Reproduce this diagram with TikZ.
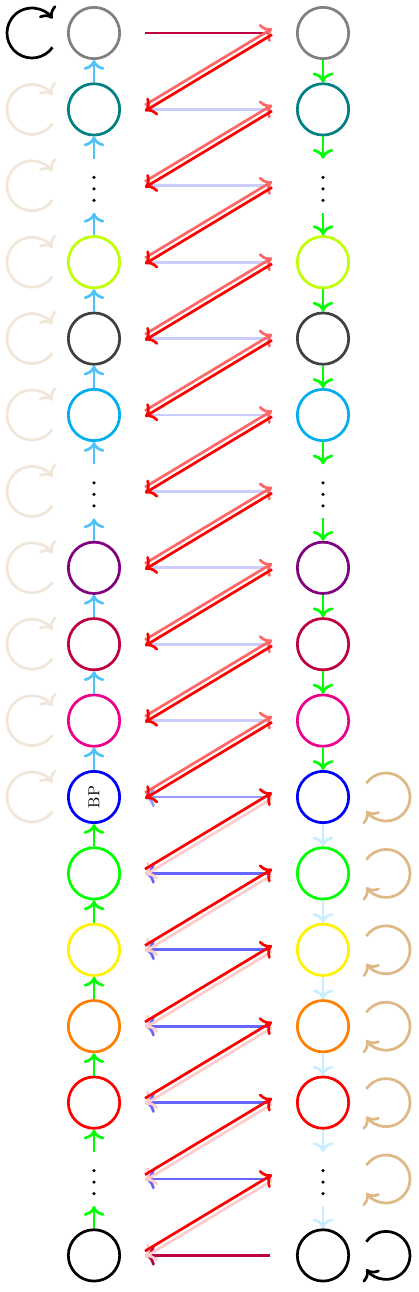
\documentclass[tikz,border=0pt]{standalone}
\usetikzlibrary{arrows.meta}
\definecolor{pcyan}{RGB}{0,174,239}
\definecolor{pmag}{RGB}{236,0,140}
\definecolor{arrcyan}{RGB}{79,195,247}
\definecolor{lcyan}{RGB}{200,238,255}
\definecolor{loopbeige}{RGB}{240,230,218}
\definecolor{looptan}{RGB}{222,184,135}
\begin{document}
\begin{tikzpicture}[x=0.022cm,y=-0.022cm,line width=1.7pt,>={To[scale=1.15]},
  nd/.style={circle,draw,minimum size=1.13cm,inner sep=0pt},
  dt/.style={circle,minimum size=1.13cm,inner sep=0pt},
  up/.style={yshift=0.095cm},
  dn/.style={yshift=-0.035cm}]
\useasboundingbox (0,0) rectangle (418,1292);
% circle nodes
\foreach \i/\c in {0/gray,1/teal,3/lime,4/darkgray,5/pcyan,7/violet,8/purple,9/pmag,10/blue,11/green,12/yellow,13/orange,14/red,16/black}{
  \node[nd,draw=\c] (L\i) at (94,{33+76.4*\i}) {};
  \node[nd,draw=\c] (R\i) at (323,{33+76.4*\i}) {};
}
\node[rotate=90] (bp) at (L10) {BP};
% dots nodes
\foreach \i in {2,6,15}{
  \node[dt] (L\i) at (94,{33+76.4*\i}) {};
  \node[dt] (R\i) at (323,{33+76.4*\i}) {};
  \foreach \d in {-11.5,0,11.5}{
    \fill (94,{36+76.4*\i+\d}) circle[radius=1.1pt];
    \fill (323,{36+76.4*\i+\d}) circle[radius=1.1pt];
  }
}
% connector end points
\foreach \i in {0,...,16}{
  \coordinate (a\i) at (145,{33+76.4*\i});
  \coordinate (b\i) at (272,{33+76.4*\i});
  \coordinate (c\i) at (270,{33+76.4*\i});
}
% vertical arrows
\foreach \i [evaluate=\i as \j using int(\i+1)] in {0,...,9}{
  \draw[arrcyan,->] (L\j) -- (L\i);
  \draw[green,->] (R\i) -- (R\j);
}
\foreach \i [evaluate=\i as \j using int(\i+1)] in {10,...,15}{
  \draw[green,->] (L\j) -- (L\i);
  \draw[lcyan,->] (R\i) -- (R\j);
}
% loops
\draw[black,->] (32,33) ++(35:25) arc[start angle=35,end angle=325,radius=25];
\foreach \i in {1,...,10}
  \draw[loopbeige,->] (32,{33+76.4*\i}) ++(35:25) arc[start angle=35,end angle=325,radius=25];
\foreach \i in {10,...,15}
  \draw[looptan,->] (386,{33+76.4*\i}) ++(215:24) arc[start angle=215,end angle=505,radius=24];
\draw[black,->] (386,{33+76.4*16}) ++(215:24) arc[start angle=215,end angle=505,radius=24];
% horizontal connectors
\draw[purple] (a0) -- (c0);
\foreach \i in {1,...,9} \draw[blue!20] (a\i) -- (c\i);
\draw[blue!40,->] (c10) -- (a10);
\foreach \i in {11,...,15} \draw[blue!60,->] (c\i) -- (a\i);
\draw[purple,->] (c16) -- (a16);
% diagonal connectors
\foreach \i [evaluate=\i as \j using int(\i+1)] in {0,...,9}{
  \draw[red!60,->] ([up]a\j) -- ([up]b\i);
  \draw[red,->] ([dn]b\i) -- ([dn]a\j);
}
\foreach \i [evaluate=\i as \j using int(\i+1)] in {10,...,15}{
  \draw[red!20,->] ([dn]b\i) -- ([dn]a\j);
  \draw[red,->] ([up]a\j) -- ([up]b\i);
}
\end{tikzpicture}
\end{document}
